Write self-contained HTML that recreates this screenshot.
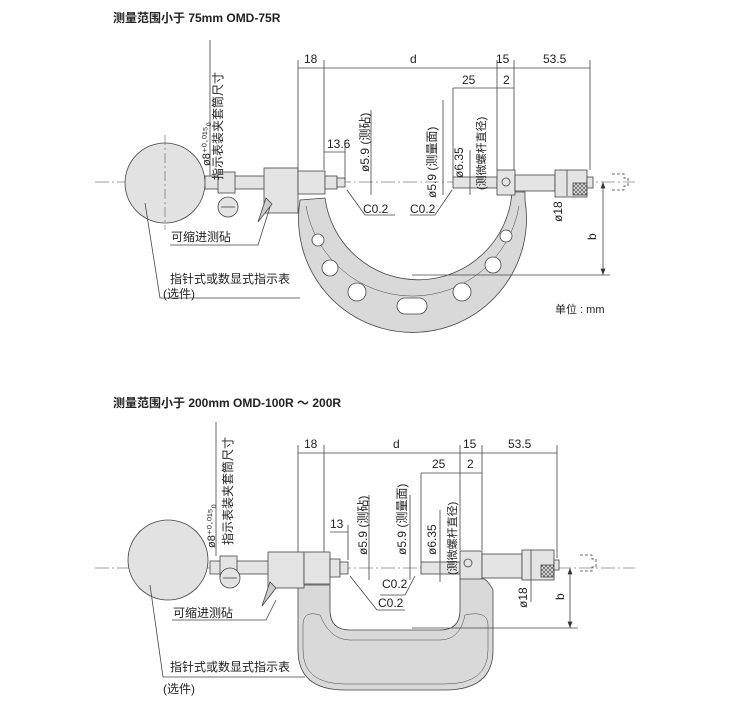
<!DOCTYPE html>
<html><head><meta charset="utf-8"><style>
html,body{margin:0;padding:0;background:#fff}
svg{display:block}
text{font-family:"Liberation Sans","Noto Sans CJK SC",sans-serif;fill:#222}
</style></head><body>
<svg width="750" height="711" viewBox="0 0 750 711" xmlns="http://www.w3.org/2000/svg">
<defs>
<marker id="a" markerWidth="8" markerHeight="6" refX="8" refY="3" orient="auto-start-reverse"><path d="M0,0 L8,3 L0,6z" fill="#333"/></marker>
<pattern id="k" width="4" height="4" patternUnits="userSpaceOnUse"><path d="M0,0L4,4M4,0L0,4" stroke="#555" stroke-width="0.7"/></pattern>
</defs>
<g stroke="#444" stroke-width="0.8" fill="none">
<!-- ===== Diagram 1 ===== -->
<line x1="95" y1="182" x2="635" y2="182" stroke-dasharray="14,3,2,3" stroke-width="0.6"/>
<circle cx="165" cy="183" r="40" fill="#e2e2e2"/>
<line x1="165" y1="135" x2="165" y2="230" stroke-dasharray="10,3,2,3" stroke-width="0.5"/>
<!-- frame -->
<path d="M300,200 A114,114 0 1 0 525,200 L525,192 L512,192 A94,94 0 0 1 325,198 Z" fill="#d9d9d9"/>
<path d="M306,206 A108,108 0 0 0 519,206" stroke-width="0.5"/>
<circle cx="318" cy="240" r="6" fill="#fff"/><circle cx="330" cy="268" r="8" fill="#fff"/>
<circle cx="357" cy="292" r="9" fill="#fff"/><rect x="397" y="298" width="30" height="16" rx="8" fill="#fff"/>
<circle cx="462" cy="292" r="9" fill="#fff"/><circle cx="493" cy="265" r="8" fill="#fff"/><circle cx="506" cy="236" r="6" fill="#fff"/>
<!-- left parts -->
<rect x="205" y="176" width="60" height="13" fill="#e4e4e4"/>
<rect x="218" y="172" width="17" height="21" fill="#e4e4e4"/>
<circle cx="228" cy="207" r="10" fill="#e4e4e4"/><line x1="221" y1="207" x2="235" y2="207"/>
<rect x="264" y="168" width="34" height="45" fill="#e4e4e4"/>
<path d="M258,222 L266,198 L272,204 Z" fill="#ccc"/>
<rect x="298" y="171" width="27" height="23" fill="#e4e4e4"/>
<rect x="325" y="176" width="12" height="13" fill="#e4e4e4"/>
<rect x="337" y="178" width="8" height="9" fill="#e4e4e4"/>
<!-- right parts -->
<rect x="453" y="177" width="44" height="11" fill="#e4e4e4"/>
<rect x="497" y="170" width="18" height="25" fill="#e4e4e4"/>
<circle cx="506" cy="182" r="4"/>
<rect x="515" y="175" width="40" height="16" fill="#e4e4e4"/>
<rect x="555" y="170" width="32" height="27" fill="#e4e4e4"/>
<rect x="573" y="183" width="14" height="12" fill="url(#k)"/>
<rect x="587" y="177" width="6" height="11" fill="#e4e4e4"/>
<path d="M612,174 h12 v4 h4 v8 h-4 v4 h-12" stroke-dasharray="3,2"/>
<!-- dims -->
<line x1="298" y1="60" x2="298" y2="170"/><line x1="324" y1="60" x2="324" y2="170"/>
<line x1="497" y1="60" x2="497" y2="170"/><line x1="514" y1="60" x2="514" y2="170"/><line x1="590" y1="60" x2="590" y2="170"/>
<line x1="298" y1="68" x2="590" y2="68"/>
<line x1="453" y1="88" x2="453" y2="178"/><line x1="453" y1="88" x2="514" y2="88"/>
<line x1="324" y1="152" x2="345" y2="152"/><line x1="345" y1="140" x2="345" y2="180"/>
<line x1="371" y1="110" x2="371" y2="195"/><line x1="443" y1="100" x2="443" y2="195"/><line x1="470" y1="150" x2="470" y2="195"/>
<line x1="567" y1="170" x2="567" y2="196"/>
<line x1="603" y1="182" x2="603" y2="275" marker-start="url(#a)" marker-end="url(#a)"/>
<line x1="412" y1="275" x2="610" y2="275"/>
<line x1="210" y1="40" x2="210" y2="176"/>
<path d="M347,190 L365,215 L395,215"/><path d="M452,190 L435,215 L410,215"/>
<path d="M270,207 L258,245 L170,245"/><path d="M145,203 L160,298 L300,298"/>
<!-- ===== Diagram 2 ===== -->
<line x1="95" y1="568" x2="635" y2="568" stroke-dasharray="14,3,2,3" stroke-width="0.6"/>
<circle cx="168" cy="560" r="40" fill="#e2e2e2"/>
<path d="M298,585 L298,650 Q298,690 345,690 L445,690 Q493,690 493,650 L493,590 Q488,580 482,578 L460,578 L460,610 Q460,630 440,630 L350,630 Q330,630 330,610 L330,585 Z" fill="#d9d9d9"/>
<path d="M303,625 Q303,610 320,615 Q330,640 350,640 L440,640 Q460,640 465,615 Q488,610 488,625 L488,650 Q488,684 445,684 L345,684 Q303,684 303,650 Z" stroke-width="0.5"/>
<rect x="210" y="561" width="60" height="13" fill="#e4e4e4"/>
<rect x="220" y="556" width="17" height="22" fill="#e4e4e4"/>
<circle cx="230" cy="578" r="10" fill="#e4e4e4"/><line x1="223" y1="578" x2="237" y2="578"/>
<rect x="268" y="552" width="36" height="36" fill="#e4e4e4"/>
<path d="M262,606 L270,582 L276,588 Z" fill="#ccc"/>
<rect x="304" y="552" width="26" height="32" fill="#e4e4e4"/>
<rect x="330" y="559" width="10" height="18" fill="#e4e4e4"/>
<rect x="340" y="562" width="8" height="12" fill="#e4e4e4"/>
<rect x="421" y="562" width="39" height="12" fill="#e4e4e4"/>
<rect x="460" y="551" width="22" height="28" fill="#e4e4e4"/><circle cx="468" cy="563" r="4"/>
<rect x="482" y="554" width="40" height="24" fill="#e4e4e4"/>
<rect x="522" y="550" width="32" height="30" fill="#e4e4e4"/>
<rect x="541" y="565" width="13" height="12" fill="url(#k)"/>
<rect x="554" y="560" width="5" height="10" fill="#e4e4e4"/>
<path d="M580,555 h12 v4 h4 v8 h-4 v4 h-12" stroke-dasharray="3,2"/>
<line x1="298" y1="445" x2="298" y2="552"/><line x1="324" y1="445" x2="324" y2="552"/>
<line x1="460" y1="445" x2="460" y2="550"/><line x1="482" y1="445" x2="482" y2="550"/><line x1="557" y1="445" x2="557" y2="558"/>
<line x1="298" y1="453" x2="557" y2="453"/>
<line x1="421" y1="473" x2="421" y2="562"/><line x1="421" y1="473" x2="482" y2="473"/>
<line x1="330" y1="532" x2="348" y2="532"/><line x1="348" y1="525" x2="348" y2="560"/>
<line x1="369" y1="495" x2="369" y2="580"/><line x1="410" y1="495" x2="410" y2="580"/><line x1="440" y1="510" x2="440" y2="582"/>
<line x1="531" y1="550" x2="531" y2="602"/>
<line x1="570" y1="568" x2="570" y2="628" marker-start="url(#a)" marker-end="url(#a)"/>
<line x1="412" y1="628" x2="578" y2="628"/>
<line x1="216" y1="422" x2="216" y2="556"/>
<path d="M350,576 L377,610 L405,610"/><path d="M415,576 L405,595 L380,595"/>
<path d="M276,600 L266,620 L172,620"/><path d="M150,585 L163,677 L305,677"/>
</g>
<g font-size="12">
<text x="113" y="22" font-weight="bold">测量范围小于 75mm  OMD-75R</text>
<text x="113" y="407" font-weight="bold">测量范围小于 200mm  OMD-100R ～ 200R</text>
<text x="304" y="63">18</text><text x="410" y="63">d</text><text x="496" y="63">15</text><text x="543" y="63">53.5</text>
<text x="462" y="84">25</text><text x="503" y="84">2</text>
<text x="327" y="148">13.6</text>
<text x="363" y="213">C0.2</text><text x="410" y="213">C0.2</text>
<text x="171" y="241">可缩进测砧</text><text x="170" y="283">指针式或数显式指示表</text><text x="163" y="298">(选件)</text>
<text x="555" y="313" font-size="11">单位 : mm</text>
<text x="304" y="448">18</text><text x="393" y="448">d</text><text x="463" y="448">15</text><text x="508" y="448">53.5</text>
<text x="432" y="468">25</text><text x="467" y="468">2</text>
<text x="330" y="528">13</text>
<text x="382" y="588">C0.2</text><text x="378" y="607">C0.2</text>
<text x="173" y="617">可缩进测砧</text><text x="170" y="671">指针式或数显式指示表</text><text x="163" y="693">(选件)</text>
<text transform="translate(596,240) rotate(-90)">b</text>
<text transform="translate(564,600) rotate(-90)">b</text>
<text transform="translate(562,222) rotate(-90)">ø18</text>
<text transform="translate(527,608) rotate(-90)">ø18</text>
<text transform="translate(369,172) rotate(-90)">ø5.9 (测砧)</text>
<text transform="translate(436,198) rotate(-90)">ø5.9 (测量面)</text>
<text transform="translate(463,178) rotate(-90)">ø6.35</text>
<text transform="translate(485,190) rotate(-90)" font-size="11">(测微螺杆直径)</text>
<text transform="translate(222,180) rotate(-90)">指示表装夹套筒尺寸</text>
<text transform="translate(210,166) rotate(-90)" font-size="11">ø8⁺⁰·⁰¹⁵₀</text>
<text transform="translate(367,555) rotate(-90)">ø5.9 (测砧)</text>
<text transform="translate(406,555) rotate(-90)">ø5.9 (测量面)</text>
<text transform="translate(436,555) rotate(-90)">ø6.35</text>
<text transform="translate(456,575) rotate(-90)" font-size="11">(测微螺杆直径)</text>
<text transform="translate(232,545) rotate(-90)">指示表装夹套筒尺寸</text>
<text transform="translate(215,548) rotate(-90)" font-size="11">ø8⁺⁰·⁰¹⁵₀</text>
</g>
</svg>
</body></html>
